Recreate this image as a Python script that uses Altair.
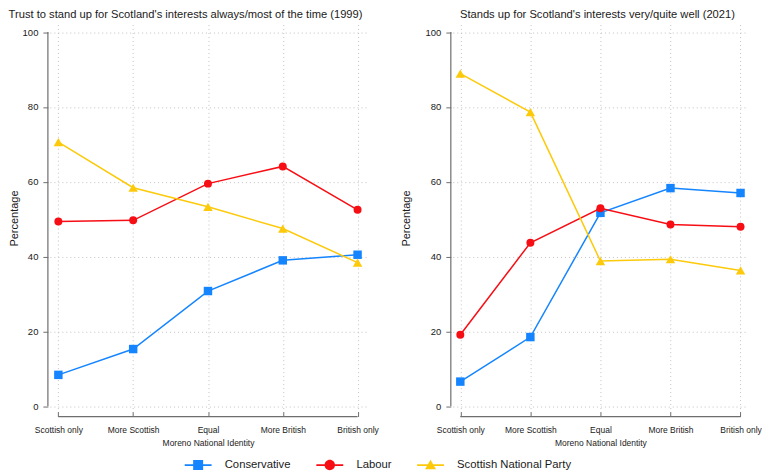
import altair as alt
import pandas as pd

identities = ["Scottish only", "More Scottish", "Equal", "More British", "British only"]
parties = ["Conservative", "Labour", "Scottish National Party"]

con_1999 = [8.4, 15.3, 30.8, 39.0, 40.5]
lab_1999 = [49.4, 49.7, 59.5, 64.1, 52.5]
snp_1999 = [70.6, 58.4, 53.3, 47.5, 38.4]

con_2021 = [6.6, 18.5, 51.7, 58.3, 57.0]
lab_2021 = [19.1, 43.7, 52.9, 48.6, 48.0]
snp_2021 = [88.9, 78.6, 38.8, 39.3, 36.3]

y_ticks = [0, 20, 40, 60, 80, 100]

title_1999 = "Trust to stand up for Scotland's interests always/most of the time (1999)"
title_2021 = "Stands up for Scotland's interests very/quite well (2021)"

colors = ["#1585ff", "#f70d14", "#fcca0b"]
marker_shapes = ["square", "circle", "triangle-up"]
marker_sizes = [72, 64, 90]

_line = "M-2.45,-0.16H2.45V0.16H-2.45Z "
legend_paths = [
    _line + "M-0.91,-0.91H0.91V0.91H-0.91Z",
    _line + "M0.95,0A0.95,0.95 0 1,1 -0.95,0A0.95,0.95 0 1,1 0.95,0Z",
    _line + "M0,-0.95L1,0.78H-1Z",
]

FONT = "Liberation Sans"
AXIS_GREY = "#6e6e6e"
GRID_GREY = "#c2c2c2"
TEXT = "#1a1a1a"
H = 388


def make_df(series):
    rows = []
    for p, vals in zip(parties, series):
        for k, (ident, v) in enumerate(zip(identities, vals)):
            rows.append({"identity": ident, "idx": k, "party": p, "pct": v})
    return pd.DataFrame(rows)


def panel(df, title, width, pad, dx, ytitle_pad, with_legend):
    xscale = alt.Scale(type="point", domain=identities, padding=pad)
    yscale = alt.Scale(domain=[-1.4, 102], nice=False, zero=False)
    x_axis = alt.Axis(
        title="Moreno National Identity", domain=False, ticks=True, tickSize=5,
        tickColor=AXIS_GREY, tickWidth=1, labelFontSize=8.5, labelPadding=9,
        labelAngle=0, labelColor=TEXT, labelOverlap=False, titleFontSize=8.5,
        titleFontWeight="normal", titlePadding=5, titleColor=TEXT, grid=True,
        gridColor=GRID_GREY, gridDash=[1, 3], gridWidth=1, labelFont=FONT, titleFont=FONT,
    )
    y_axis = alt.Axis(
        title="Percentage", values=y_ticks, domain=False, ticks=True, tickSize=5,
        tickColor=AXIS_GREY, tickWidth=1, offset=2, labelPadding=5, labelFontSize=9.5,
        labelColor=TEXT, titleFontSize=11, titleFontWeight="normal", titlePadding=ytitle_pad,
        titleColor=TEXT, grid=True, gridColor=GRID_GREY, gridDash=[1, 3], gridWidth=1,
        labelFont=FONT, titleFont=FONT,
    )
    base = alt.Chart(df)
    x_enc = alt.X("identity:N", scale=xscale, axis=x_axis)
    y_enc = alt.Y("pct:Q", scale=yscale, axis=y_axis)

    layers = []
    for p, c, s, sz in zip(parties, colors, marker_shapes, marker_sizes):
        sub = base.transform_filter(alt.datum.party == p)
        layers.append(
            sub.mark_line(color=c, strokeWidth=1.5).encode(x=x_enc, y=y_enc, order="idx:Q")
        )
        layers.append(
            sub.mark_point(shape=s, filled=True, size=sz, color=c, opacity=1).encode(x=x_enc, y=y_enc)
        )
    # y axis line (from first to last tick)
    ydf = pd.DataFrame({"lo": [y_ticks[0]], "hi": [y_ticks[-1]]})
    layers.append(
        alt.Chart(ydf).mark_rule(color=AXIS_GREY, strokeWidth=1.2).encode(
            x=alt.value(-2), y=alt.Y("lo:Q", scale=yscale, axis=y_axis), y2="hi:Q"
        )
    )
    # x axis line (from first to last category)
    xdf = pd.DataFrame({"a": [identities[0]], "b": [identities[-1]]})
    layers.append(
        alt.Chart(xdf).mark_rule(color=AXIS_GREY, strokeWidth=1.2).encode(
            x=alt.X("a:N", scale=xscale, axis=x_axis), x2="b", y=alt.value(H + 5)
        )
    )
    if with_legend:
        leg = alt.Legend(
            title=None, orient="none", legendX=143, legendY=436, direction="horizontal",
            columns=3, labelFontSize=11.3, labelFont=FONT, labelColor=TEXT, labelOffset=21,
            columnPadding=25, symbolSize=121, symbolStrokeWidth=0, symbolOpacity=1,
        )
        layers.append(
            base.mark_point(filled=True, size=121, opacity=0).encode(
                x=x_enc, y=y_enc,
                color=alt.Color("party:N", scale=alt.Scale(domain=parties, range=colors), legend=leg),
                shape=alt.Shape("party:N", scale=alt.Scale(domain=parties, range=legend_paths), legend=leg),
            )
        )
    return alt.layer(*layers).properties(
        width=width, height=H,
        title=alt.Title(title, fontSize=11.2, fontWeight="normal", font=FONT, color=TEXT,
                        anchor="middle", frame="group", dx=dx, offset=4),
    )


left = panel(make_df([con_1999, lab_1999, snp_1999]), title_1999, 317, 0.1133, -22.5, 3, True)
right = panel(make_df([con_2021, lab_2021, snp_2021]), title_2021, 296, 0.107, -3, 14, False)

chart = (
    alt.hconcat(left, right, spacing=21)
    .properties(padding=0)
    .configure(font=FONT, background="white")
    .configure_view(stroke=None)
)

chart.save("out.html", embed_options={"renderer": "svg", "actions": False})
